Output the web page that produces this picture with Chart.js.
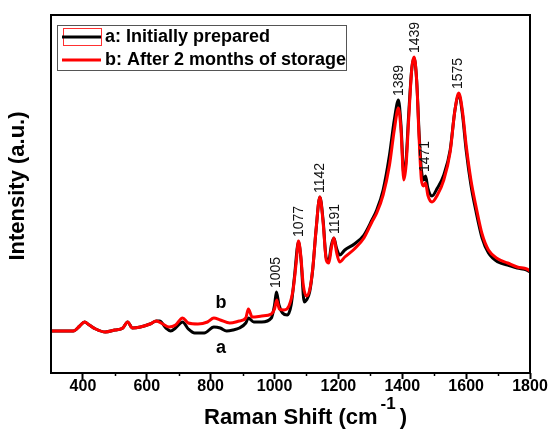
<!DOCTYPE html>
<html>
<head>
<meta charset="utf-8">
<script src="https://cdn.jsdelivr.net/npm/chart.js@4"></script>
<style>
  body { margin: 0; background: #fff; }
</style>
</head>
<body>
<canvas id="ramanChart" width="551" height="429"></canvas>
<script>
// Raman spectra, intensity in arbitrary units
const shiftA = [300, 340, 370, 390, 405, 420, 440, 470, 500, 525, 540, 555, 580, 610, 630, 640, 660, 675, 690, 712, 730, 750, 780, 810, 830, 850, 870, 890, 910, 918, 935, 960, 990, 1000, 1006, 1014, 1025, 1040, 1052, 1062, 1075, 1083, 1093, 1100, 1110, 1120, 1130, 1142, 1152, 1162, 1170, 1178, 1186, 1194, 1204, 1220, 1250, 1280, 1305, 1320, 1340, 1360, 1375, 1388, 1396, 1405, 1412, 1420, 1430, 1437, 1445, 1453, 1460, 1467, 1473, 1480, 1493, 1510, 1530, 1550, 1565, 1577, 1588, 1600, 1615, 1630, 1650, 1670, 1700, 1730, 1760, 1790, 1800];
const intensityA = [42, 42, 42, 47, 51, 48, 44, 41, 43, 45, 51, 45, 46, 49, 52, 52, 45, 42, 45, 51, 44, 40, 40, 46, 45, 42, 43, 45, 50, 55, 51, 51, 55, 68, 81, 68, 60, 58, 68, 95, 131, 113, 71, 73, 81, 105, 143, 176, 153, 115, 113, 128, 135, 125, 118, 123, 129, 138, 153, 163, 183, 218, 253, 273, 248, 198, 213, 258, 305, 315, 293, 238, 203, 193, 197, 185, 177, 185, 198, 223, 263, 278, 260, 223, 188, 163, 135, 120, 111, 108, 105, 103, 101];

const shiftB = [300, 340, 370, 390, 405, 420, 440, 470, 500, 525, 540, 555, 580, 610, 630, 650, 670, 690, 712, 730, 760, 790, 810, 830, 860, 890, 910, 918, 930, 960, 990, 1000, 1007, 1015, 1030, 1045, 1058, 1068, 1075, 1082, 1090, 1100, 1110, 1120, 1130, 1142, 1152, 1162, 1170, 1178, 1186, 1194, 1204, 1220, 1250, 1280, 1305, 1320, 1340, 1360, 1375, 1388, 1396, 1405, 1412, 1420, 1430, 1437, 1445, 1453, 1460, 1467, 1473, 1480, 1493, 1510, 1530, 1550, 1565, 1577, 1588, 1600, 1615, 1630, 1650, 1670, 1700, 1730, 1760, 1790, 1800];
const intensityB = [42, 42, 42, 47, 51, 48, 44, 41, 43, 45, 51, 45, 46, 49, 52, 49, 46, 48, 55, 50, 49, 51, 55, 53, 50, 52, 55, 64, 56, 57, 59, 64, 73, 64, 63, 67, 83, 111, 132, 118, 88, 77, 83, 105, 143, 176, 151, 113, 110, 125, 135, 121, 111, 116, 124, 135, 151, 160, 178, 208, 243, 265, 243, 193, 208, 253, 305, 316, 293, 233, 193, 187, 190, 178, 171, 178, 193, 221, 263, 280, 263, 228, 193, 168, 139, 123, 114, 110, 106, 104, 102];

const seriesLabels = ['a: Initially prepared', 'b: After 2 months of storage'];
const peakLabels = [1005, 1077, 1142, 1191, 1389, 1439, 1471, 1575];
const xTickLabels = [400, 600, 800, 1000, 1200, 1400, 1600, 1800];
const curveTags = [{ text: 'a', x: 832, y: 25 }, { text: 'b', x: 832, y: 70 }];

const FONT = '"Liberation Sans", Arial, sans-serif';
Chart.defaults.font.family = FONT;

function toPoints(xs, ys) {
    return xs.map((x, i) => ({ x: x, y: ys[i] }));
}

// frame, minor ticks, legend, peak labels and axis titles
const decorations = {
    id: 'decorations',
    afterDraw(chart) {
        const ctx = chart.ctx;
        const area = chart.chartArea;
        const xs = chart.scales.x;
        const ys = chart.scales.y;
        ctx.save();

        // plot frame
        ctx.strokeStyle = '#000';
        ctx.lineWidth = 2;
        ctx.strokeRect(area.left, area.top, area.right - area.left, area.bottom - area.top);

        // minor ticks
        ctx.lineWidth = 1.5;
        for (let v = 500; v < 1800; v += 200) {
            const px = Math.round(xs.getPixelForValue(v)) + 0.5;
            ctx.beginPath();
            ctx.moveTo(px, area.bottom);
            ctx.lineTo(px, area.bottom + 3);
            ctx.stroke();
        }

        // peak labels
        ctx.font = '14px ' + FONT;
        ctx.fillStyle = '#111';
        ctx.textAlign = 'left';
        ctx.textBaseline = 'middle';
        const all = [chart.data.datasets[0].data, chart.data.datasets[1].data];
        peakLabels.forEach(p => {
            let top = 0;
            all.forEach(d => d.forEach(pt => {
                if (Math.abs(pt.x - p) <= 6 && pt.y > top) top = pt.y;
            }));
            const px = xs.getPixelForValue(p);
            const py = ys.getPixelForValue(top) - 4;
            ctx.save();
            ctx.translate(px, py);
            ctx.rotate(-Math.PI / 2);
            ctx.fillText(String(p), 0, 0);
            ctx.restore();
        });

        // curve tags a / b
        ctx.font = 'bold 18px ' + FONT;
        ctx.fillStyle = '#000';
        ctx.textAlign = 'center';
        curveTags.forEach(t => {
            ctx.fillText(t.text, xs.getPixelForValue(t.x), ys.getPixelForValue(t.y));
        });

        // legend
        ctx.strokeStyle = '#555';
        ctx.lineWidth = 1;
        ctx.strokeRect(57.5, 25.5, 289, 45);
        chart.data.datasets.forEach((ds, i) => {
            const y = 37 + i * 23;
            if (i === 0) {
                ctx.strokeStyle = '#ff3030';
                ctx.lineWidth = 1;
                ctx.strokeRect(63.5, 28.5, 38, 17);
            }
            ctx.strokeStyle = ds.borderColor;
            ctx.lineWidth = 3;
            ctx.beginPath();
            ctx.moveTo(62, y);
            ctx.lineTo(101, y);
            ctx.stroke();
            ctx.font = 'bold 18px ' + FONT;
            ctx.fillStyle = '#000';
            ctx.textAlign = 'left';
            ctx.fillText(ds.label, 105, y);
        });

        // y title
        ctx.save();
        ctx.translate(18, 186);
        ctx.rotate(-Math.PI / 2);
        ctx.font = 'bold 22px ' + FONT;
        ctx.textAlign = 'center';
        ctx.fillText('Intensity (a.u.)', 0, 0);
        ctx.restore();

        // x title with superscript
        ctx.font = 'bold 22px ' + FONT;
        const main = 'Raman Shift (cm';
        const wMain = ctx.measureText(main).width;
        ctx.font = 'bold 17px ' + FONT;
        const sup = '-1';
        const wSup = ctx.measureText(sup).width;
        const x0 = 204;
        ctx.textAlign = 'left';
        ctx.font = 'bold 22px ' + FONT;
        ctx.fillText(main, x0, 418);
        ctx.font = 'bold 17px ' + FONT;
        ctx.fillText(sup, x0 + wMain + 3, 404);
        ctx.font = 'bold 22px ' + FONT;
        ctx.fillText(')', x0 + wMain + wSup + 7, 418);

        ctx.restore();
    }
};

new Chart(document.getElementById('ramanChart'), {
    type: 'line',
    data: {
        datasets: [{
            label: seriesLabels[0],
            data: toPoints(shiftA, intensityA),
            borderColor: '#000000',
            borderWidth: 3,
            pointRadius: 0,
            cubicInterpolationMode: 'monotone',
            order: 1
        }, {
            label: seriesLabels[1],
            data: toPoints(shiftB, intensityB),
            borderColor: '#ff0000',
            borderWidth: 3,
            pointRadius: 0,
            cubicInterpolationMode: 'monotone',
            order: 0
        }]
    },
    options: {
        responsive: false,
        animation: false,
        layout: { padding: { left: 51, right: 21, top: 15, bottom: 0 } },
        plugins: {
            legend: { display: false },
            tooltip: { enabled: false }
        },
        scales: {
            x: {
                type: 'linear',
                min: 300,
                max: 1800,
                border: { display: false },
                grid: {
                    drawOnChartArea: false,
                    drawTicks: true,
                    tickLength: 6,
                    tickWidth: 2,
                    tickColor: c => xTickLabels.includes(c.tick.value) ? '#000' : 'rgba(0,0,0,0)'
                },
                ticks: {
                    stepSize: 100,
                    autoSkip: false,
                    maxRotation: 0,
                    padding: -2,
                    color: '#000',
                    font: { size: 16, weight: 'bold' },
                    callback: v => xTickLabels.includes(v) ? String(v) : ''
                },
                afterFit: s => { s.height = 56; }
            },
            y: {
                display: false,
                min: 0,
                max: 358
            }
        }
    },
    plugins: [decorations]
});
</script>
</body>
</html>
